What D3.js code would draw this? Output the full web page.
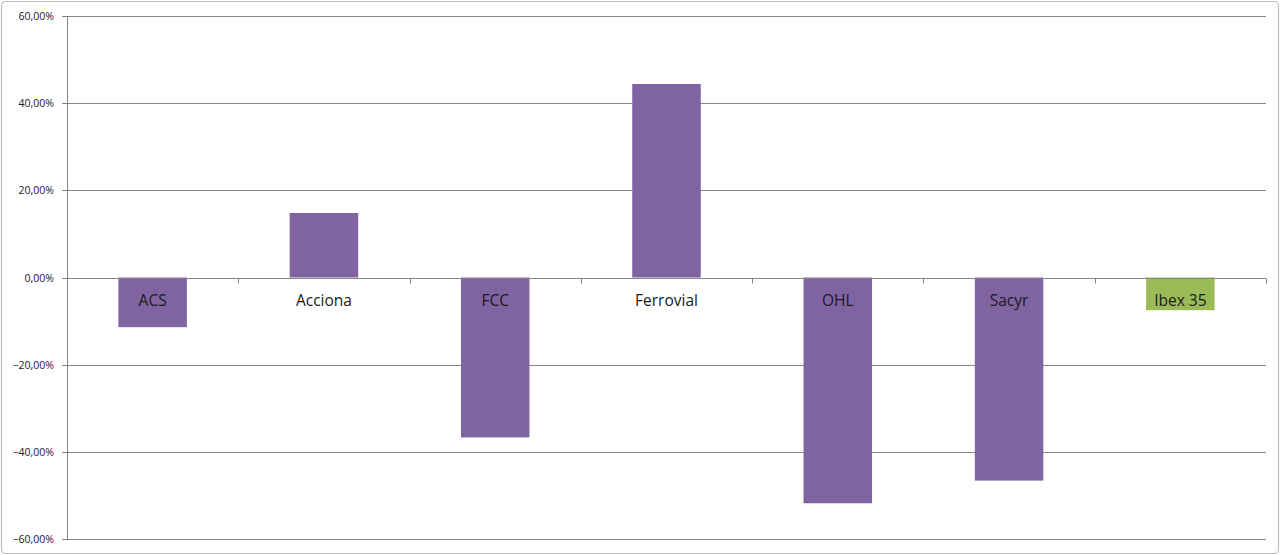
<!DOCTYPE html>
<html><head><meta charset="utf-8">
<script src="https://cdn.jsdelivr.net/npm/d3@7"></script>
<style>html,body{margin:0;padding:0;background:#fff;}svg{display:block;}</style>
</head><body>
<svg id="c" width="1280" height="555"></svg>
<script>
const categories = ["ACS","Acciona","FCC","Ferrovial","OHL","Sacyr","Ibex 35"];
const values = [-11.4, 14.8, -36.7, 44.4, -51.8, -46.6, -7.5];
const barColors = ["#8064A2","#8064A2","#8064A2","#8064A2","#8064A2","#8064A2","#9BBB59"];
const yTicks = [60,40,20,0,-20,-40,-60];

(function(){
const svg = d3.select("#c");
svg.append("rect").attr("x",1.5).attr("y",1.5).attr("width",1277).attr("height",552)
  .attr("rx",4).attr("fill","#fff").attr("stroke","#bdbdbd").attr("stroke-width",1.2);

const pl=67, pr=1266, pt=16, pb=539;
const y = d3.scaleLinear().domain([-60,60]).range([pb,pt]);
const x = d3.scaleBand().domain(categories).range([pl,pr]).paddingInner(0.6).paddingOuter(0.3);
const xb = d3.scaleBand().domain(categories).range([pl,pr]);

const g = svg.append("g");
g.selectAll("line.grid").data(yTicks).join("line")
  .attr("x1",pl-5).attr("x2",pr).attr("y1",d=>Math.round(y(d))+0.5).attr("y2",d=>Math.round(y(d))+0.5)
  .attr("stroke","#868686").attr("stroke-width",1);
g.append("line").attr("x1",pl+0.5).attr("x2",pl+0.5).attr("y1",pt).attr("y2",pb)
  .attr("stroke","#868686");
g.selectAll("text.yl").data(yTicks).join("text")
  .attr("x",pl-13).attr("y",d=>y(d)+4).attr("text-anchor","end")
  .attr("font-family","Open Sans, sans-serif").attr("font-size",10.5).attr("fill","#222")
  .text(d=>d3.format(".2f")(d).replace(".",",")+"%");
g.selectAll("rect.bar").data(categories).join("rect")
  .attr("x",d=>x(d)).attr("width",x.bandwidth())
  .attr("y",(d,i)=>y(Math.max(0,values[i]))).attr("height",(d,i)=>Math.abs(y(values[i])-y(0)))
  .attr("fill",(d,i)=>barColors[i]);
const z = Math.round(y(0))+0.5;
g.append("line").attr("x1",pl-5).attr("x2",pr).attr("y1",z).attr("y2",z).attr("stroke","#868686");
const tickX = categories.map(c=>xb(c)+xb.bandwidth()).concat([pl]);
g.selectAll("line.ct").data(tickX).join("line")
  .attr("x1",d=>Math.round(d)+0.5).attr("x2",d=>Math.round(d)+0.5).attr("y1",z).attr("y2",z+5)
  .attr("stroke","#868686");
g.selectAll("text.cl").data(categories).join("text")
  .attr("x",d=>xb(d)+xb.bandwidth()/2).attr("y",z+27).attr("text-anchor","middle")
  .attr("font-family","Open Sans, sans-serif").attr("font-size",15.5).attr("fill","#1a1a1a")
  .text(d=>d);
})();
</script>
</body></html>
